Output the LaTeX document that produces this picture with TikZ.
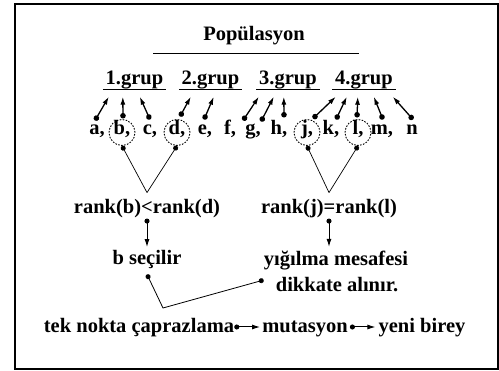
\documentclass[tikz,border=0pt]{standalone}
\usepackage{fontspec}
\setmainfont{Liberation Serif}
\newfontfamily\trfont{Liberation Serif}
\usetikzlibrary{%
	arrows.meta,%
	calc%
}

\begin{document}
\begin{tikzpicture}[x=1pt,y=-1pt,
		txt/.style={font=\trfont\fontsize{20.5}{24}\selectfont\bfseries, inner sep=0pt, anchor=base},
		grp/.style={txt, minimum width=63pt},
		sel/.style={draw, circle, dash pattern=on 1.6pt off 1.4pt, line width=0.9pt, minimum size=26pt, inner sep=0pt},
		up/.style={{Circle[length=5.5pt]}-{Latex[length=8pt,width=5pt]}, line width=1.3pt},
		dn/.style={{Circle[length=5pt]}-{Latex[length=8pt,width=5pt]}, line width=1pt},
		legs/.style={{Circle[length=5pt]}-, line width=0.7pt},
		link/.style={{Circle[length=5pt]}-{Circle[length=5pt]}, line width=0.8pt}]
		\useasboundingbox (0,0) rectangle (499,371);
		\draw[line width=2pt] (15,4) rectangle (497.5,369.5);

		\node[txt] (P) at (254,41) {Popülasyon};
		\draw[line width=0.8pt] (153,53) -- (359,53);

		\node[grp] (G1) at (134.5,85) {1.grup};
		\node[grp] (G2) at (210.5,85) {2.grup};
		\node[grp] (G3) at (288,85) {3.grup};
		\node[grp] (G4) at (364,85) {4.grup};
		\draw[line width=1.4pt] (G1.south west) -- (G1.south east);
		\draw[line width=1.4pt] (G2.south west) -- (G2.south east);
		\draw[line width=1.4pt] (G3.south west) -- (G3.south east);
		\draw[line width=1.4pt] (G4.south west) -- (G4.south east);

		\node[txt] (a) at (97,135) {a,};
		\node[txt] (b) at (122,135) {b,};
		\node[txt] (c) at (150,135) {c,};
		\node[txt] (d) at (177,135) {d,};
		\node[txt] (e) at (205,135) {e,};
		\node[txt] (f) at (230,135) {f,};
		\node[txt] (g) at (253,135) {g,};
		\node[txt] (h) at (279,135) {h,};
		\node[txt] (j) at (307,135) {j,};
		\node[txt] (k) at (331,135) {k,};
		\node[txt] (l) at (358,135) {l,};
		\node[txt] (m) at (382,135) {m,};
		\node[txt] (n) at (412,135) {n};

		\node[sel] (Cb) at ([yshift=2.5pt]b.base) {};
		\node[sel] (Cd) at ([yshift=2.5pt]d.base) {};
		\node[sel] (Cj) at ([yshift=2.5pt]j.base) {};
		\node[sel] (Cl) at ([yshift=2.5pt]l.base) {};

		\draw[up] ([xshift=-2pt,yshift=14.5pt]a.base) -- ([xshift=6pt,yshift=-7pt]G1.south west);
		\draw[up] ([xshift=1pt,yshift=16.5pt]b.base) -- ([xshift=20pt,yshift=-7pt]G1.south west);
		\draw[up] ([xshift=0pt,yshift=15.5pt]c.base) -- ([xshift=37pt,yshift=-7pt]G1.south west);
		\draw[up] ([xshift=3pt,yshift=18.5pt]d.base) -- ([xshift=12pt,yshift=-7pt]G2.south west);
		\draw[up] ([xshift=-1pt,yshift=15.5pt]e.base) -- ([xshift=35pt,yshift=-7pt]G2.south west);
		\draw[up] ([xshift=13pt,yshift=14.5pt]f.base) -- ([xshift=2.5pt,yshift=-7pt]G3.south west);
		\draw[up] ([xshift=8pt,yshift=13.5pt]g.base) -- ([xshift=17.5pt,yshift=-7pt]G3.south west);
		\draw[up] ([xshift=5pt,yshift=17.5pt]h.base) -- ([xshift=27.5pt,yshift=-7pt]G3.south west);
		\draw[up] ([xshift=6pt,yshift=16.5pt]j.base) -- ([xshift=3.5pt,yshift=-7pt]G4.south west);
		\draw[up] ([xshift=5pt,yshift=15.5pt]k.base) -- ([xshift=14.5pt,yshift=-7pt]G4.south west);
		\draw[up] ([xshift=-1pt,yshift=17.5pt]l.base) -- ([xshift=25.5pt,yshift=-7pt]G4.south west);
		\draw[up] ([xshift=1pt,yshift=15.5pt]m.base) -- ([xshift=41.5pt,yshift=-7pt]G4.south west);
		\draw[up] ([xshift=1pt,yshift=15.5pt]n.base) -- ([xshift=60.5pt,yshift=-7pt]G4.south west);

		\node[txt] (R1) at (147,214) {rank(b)<rank(d)};
		\node[txt] (R2) at (329,214) {rank(j)=rank(l)};
		\coordinate (V1) at ([yshift=7pt]R1.north);
		\coordinate (V2) at ([yshift=7pt]R2.north);
		\draw[legs] (Cb.south) -- (V1);
		\draw[legs] (Cd.south) -- (V1);
		\draw[legs] (Cj.south) -- (V2);
		\draw[legs] (Cl.south) -- (V2);

		\node[txt] (B1) at (147,265) {b seçilir};
		\node[txt] (Y1) at (336,266) {yığılma mesafesi};
		\node[txt] (D1) at (337,292) {dikkate alınır.};
		\draw[dn, shorten >=3.5pt] (R1.south) -- (R1.south |- B1.north);
		\draw[dn, shorten >=4.5pt] (R2.south) -- (R2.south |- Y1.north);

		\coordinate (K) at (163,308);
		\draw[link] ([yshift=-5pt]B1.south) -- (K) -- ([xshift=-12pt,yshift=5pt]D1.west);

		\node[txt] (T1) at (139,333) {tek nokta çaprazlama};
		\node[txt] (T2) at (305,333) {mutasyon};
		\node[txt] (T3) at (422,333) {yeni birey};
		\draw[dn, shorten >=2pt] ([yshift=6pt]T1.base east) -- ([yshift=6pt]T2.base west);
		\draw[dn, shorten >=3pt] ([xshift=2pt,yshift=6pt]T2.base east) -- ([yshift=6pt]T3.base west);
	\end{tikzpicture}
\end{document}
